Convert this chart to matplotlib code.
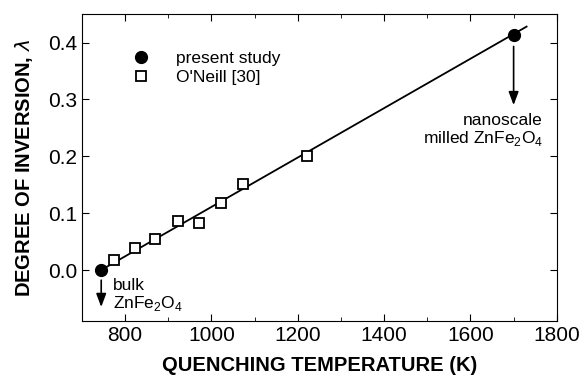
import numpy as np
import matplotlib.pyplot as plt
from matplotlib.ticker import MultipleLocator

plt.rcParams['font.family'] = ['Liberation Sans', 'DejaVu Sans']
plt.rcParams['mathtext.fontset'] = 'custom'
plt.rcParams['mathtext.rm'] = 'Liberation Sans'

# present study
temp_present = [745, 1700]
lam_present = [0.0, 0.413]

# O'Neill [30]
temp_oneill = [775, 823, 870, 922, 972, 1022, 1073, 1222]
lam_oneill = [0.018, 0.038, 0.055, 0.087, 0.082, 0.117, 0.152, 0.200]

# linear fit line ends
fit_x = [745, 1730]
fit_y = [0.0, 0.428]

fig = plt.figure(figsize=(5.8, 3.81), dpi=100)
ax = fig.add_axes([0.141, 0.157, 0.819, 0.806])

ax.plot(fit_x, fit_y, color='black', lw=1.3, zorder=1)
ax.plot(temp_oneill, lam_oneill, 's', ms=7.5, mfc='white', mec='black', mew=1.3,
        label="O'Neill [30]", zorder=2)
ax.plot(temp_present, lam_present, 'o', ms=8.5, color='black',
        label='present study', zorder=3)

ax.set_xlim(700, 1800)
ax.set_ylim(-0.09, 0.45)
ax.xaxis.set_major_locator(MultipleLocator(200))
ax.xaxis.set_minor_locator(MultipleLocator(100))
ax.yaxis.set_major_locator(MultipleLocator(0.1))
ax.yaxis.set_major_formatter(plt.FormatStrFormatter('%.1f'))
ax.tick_params(which='both', direction='in', top=True, right=True, labelsize=15)
ax.tick_params(which='major', length=5)
ax.tick_params(which='minor', length=3)

ax.set_xlabel('QUENCHING TEMPERATURE (K)', fontsize=14.5, fontweight='bold', labelpad=8)
ax.set_ylabel('DEGREE OF INVERSION, $\\lambda$', fontsize=14.5, fontweight='bold', labelpad=9)

handles, labels = ax.get_legend_handles_labels()
ax.legend(handles[::-1], labels[::-1], loc='upper left', bbox_to_anchor=(0.055, 0.93),
          frameon=False, fontsize=12.5, handletextpad=1.0, labelspacing=0.2)

arrow = dict(arrowstyle='-|>,head_width=0.3,head_length=0.8', color='black', lw=1.2)
ax.annotate('', xy=(745, -0.07), xytext=(745, -0.013), arrowprops=arrow)
ax.text(772, -0.045, 'bulk\nZnFe$_2$O$_4$', fontsize=12.5, va='center', ha='left',
        linespacing=1.1)

ax.annotate('', xy=(1700, 0.285), xytext=(1700, 0.398), arrowprops=arrow)
ax.text(1768, 0.245, 'nanoscale\nmilled ZnFe$_2$O$_4$', fontsize=12.5, va='center',
        ha='right', multialignment='right', linespacing=1.1)

fig.savefig('out.png', dpi=100)
